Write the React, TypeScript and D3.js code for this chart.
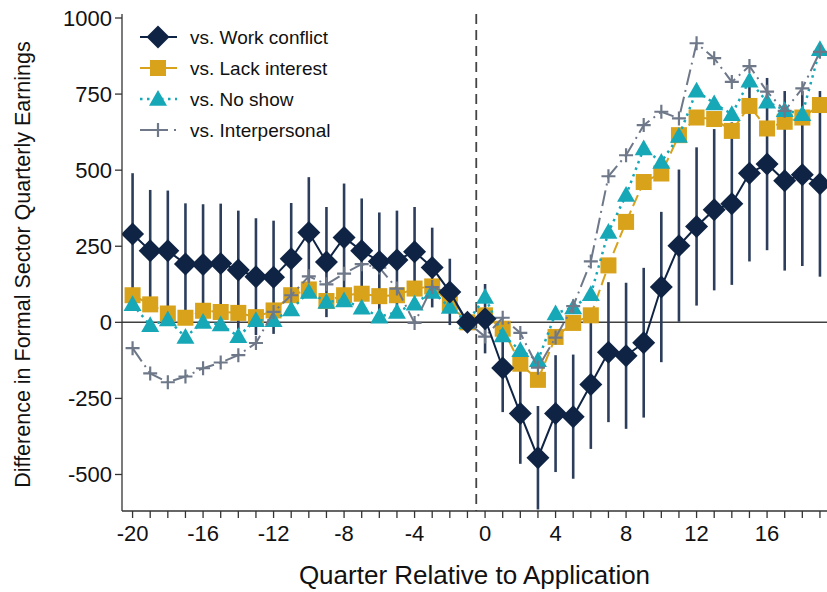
import React from 'react';
import * as d3 from 'd3';

// quarter relative to application (x categories)
const quarters = [-20, -19, -18, -17, -16, -15, -14, -13, -12, -11, -10, -9, -8, -7, -6, -5, -4, -3, -2, -1,
  0, 1, 2, 3, 4, 5, 6, 7, 8, 9, 10, 11, 12, 13, 14, 15, 16, 17, 18, 19];

const workConflict = [290, 235, 235, 192, 190, 193, 172, 150, 148, 209, 295, 198, 279, 235, 200, 205, 232, 180, 100, 0,
  12, -150, -300, -445, -300, -310, -204, -98, -110, -67, 116, 252, 315, 370, 390, 490, 520, 465, 485, 455];
const workLow = [90, 35, 37, -7, -8, -4, -23, -42, -38, 26, 113, 17, 102, 63, 39, 43, 85, 49, -9, 0,
  -102, -295, -465, -615, -492, -514, -416, -328, -350, -313, -131, 2, 55, 105, 123, 200, 237, 170, 185, 150];
const workHigh = [490, 435, 433, 391, 388, 390, 367, 342, 334, 392, 477, 379, 456, 407, 361, 367, 379, 311, 209, 0,
  126, -5, -135, -275, -108, -106, 8, 132, 130, 179, 363, 502, 575, 635, 657, 790, 803, 760, 760, 760];
const lackInterest = [89, 59, 29, 15, 38, 34, 31, 17, 39, 89, 108, 70, 89, 94, 86, 89, 111, 118, 61, 0,
  23, -21, -136, -189, -48, -2, 23, 187, 330, 461, 489, 615, 673, 668, 629, 711, 637, 659, 673, 714];
const noShow = [59, -10, 9, -48, 1, -7, -46, 7, 7, 42, 100, 67, 72, 48, 18, 34, 61, 100, 50, 0,
  83, -43, -92, -125, 29, 49, 92, 297, 418, 571, 527, 612, 761, 719, 684, 794, 725, 697, 684, 897];
const interpersonal = [-85, -168, -197, -178, -151, -132, -108, -68, 34, 89, 151, 125, 160, 191, 180, 111, -2, 116, 94, 0,
  -47, 15, -35, -149, -50, 53, 200, 480, 549, 648, 692, 670, 917, 868, 790, 842, 758, 695, 769, 889];

const xTicks = [-20, -16, -12, -8, -4, 0, 4, 8, 12, 16];
const yTicks = [-500, -250, 0, 250, 500, 750, 1000];

const NAVY = '#0f2444';
const BAR = '#2c3e5c';
const GOLD = '#d8a21b';
const TEAL = '#17a8b8';
const GRAY = '#6e7889';
const FONT = '"Liberation Sans", Arial, sans-serif';

const series = [
  { name: 'vs. Work conflict', values: workConflict, color: NAVY, dash: null, legendDash: null, width: 2, marker: 'diamond' },
  { name: 'vs. Lack interest', values: lackInterest, color: GOLD, dash: '12,5', legendDash: null, width: 2, marker: 'square' },
  { name: 'vs. No show', values: noShow, color: TEAL, dash: '2.5,4.5', legendDash: '2.5,4.5', width: 2.5, marker: 'triangle' },
  { name: 'vs. Interpersonal', values: interpersonal, color: GRAY, dash: '16,5,2,5', legendDash: '28,6,2,10', width: 2, marker: 'plus' },
];

function Marker({ type, x, y, color }) {
  if (type === 'diamond') {
    const r = 11.5;
    return <path d={`M${x},${y - r}L${x + r},${y}L${x},${y + r}L${x - r},${y}Z`} fill={color} />;
  }
  if (type === 'square') {
    const s = 8;
    return <rect x={x - s} y={y - s} width={2 * s} height={2 * s} fill={color} />;
  }
  if (type === 'triangle') {
    const r = 9;
    return <path d={`M${x},${y - r}L${x + r},${y + r * 0.75}L${x - r},${y + r * 0.75}Z`} fill={color} />;
  }
  const r = 7;
  return (
    <path d={`M${x - r},${y}H${x + r}M${x},${y - r}V${y + r}`} stroke={color} strokeWidth={2.2} fill="none" />
  );
}

export default function App() {
  const width = 827;
  const height = 592;
  const left = 122;
  const right = 827;
  const bottom = 511;
  const top = 14;

  const x = d3.scaleLinear().domain([-20.6, 19.4]).range([left, right]);
  const y = d3.scaleLinear().domain([-620, 1000]).range([bottom, 18]);

  const line = (vals) =>
    d3.line<number>()
      .x((d, i) => x(quarters[i]))
      .y((d) => y(d))(vals);

  const drawOrder = [series[1], series[2], series[3], series[0]];

  return (
    <svg width={width} height={height} style={{ position: 'absolute', left: 0, top: 0, background: '#fff' }}
      fontFamily={FONT}>
      <defs>
        <clipPath id="plot">
          <rect x={left} y={top} width={right - left} height={bottom - top} />
        </clipPath>
      </defs>

      {/* reference lines */}
      <line x1={left} x2={right} y1={y(0)} y2={y(0)} stroke="#404040" strokeWidth={1.5} />
      <line x1={x(-0.5)} x2={x(-0.5)} y1={top} y2={bottom} stroke="#444" strokeWidth={1.8} strokeDasharray="10,6" />

      <g clipPath="url(#plot)">
        {/* confidence intervals for work conflict */}
        {quarters.map((q, i) =>
          workLow[i] !== workHigh[i] ? (
            <line key={'ci' + q} x1={x(q)} x2={x(q)} y1={y(workLow[i])} y2={y(workHigh[i])}
              stroke={BAR} strokeWidth={2.6} />
          ) : null
        )}
        {drawOrder.map((s) => (
          <g key={s.name}>
            <path d={line(s.values)} fill="none" stroke={s.color} strokeWidth={s.width}
              strokeDasharray={s.dash || undefined} />
            {s.values.map((v, i) => (
              <Marker key={i} type={s.marker} x={x(quarters[i])} y={y(v)} color={s.color} />
            ))}
          </g>
        ))}
      </g>

      {/* y axis */}
      <line x1={left} x2={left} y1={top} y2={bottom} stroke="#333" strokeWidth={1.3} />
      {yTicks.map((t) => (
        <g key={t}>
          <line x1={left - 7} x2={left} y1={y(t)} y2={y(t)} stroke="#333" strokeWidth={1.3} />
          <text x={left - 10} y={y(t)} dy="0.35em" textAnchor="end" fontSize={22} fill="#111">{t}</text>
        </g>
      ))}
      <text transform={`translate(30,${(top + bottom) / 2 + 2}) rotate(-90)`} textAnchor="middle" fontSize={21.5}
        fill="#111">Difference in Formal Sector Quarterly Earnings</text>

      {/* x axis */}
      <line x1={left} x2={right} y1={bottom} y2={bottom} stroke="#333" strokeWidth={1.3} />
      {quarters.map((q) => (
        <line key={'t' + q} x1={x(q)} x2={x(q)} y1={bottom} y2={bottom + 7} stroke="#333" strokeWidth={1.3} />
      ))}
      {xTicks.map((t) => (
        <text key={'xl' + t} x={x(t)} y={bottom + 30} textAnchor="middle" fontSize={22} fill="#111">{t}</text>
      ))}
      <text x={(left + right) / 2} y={584} textAnchor="middle" fontSize={26} fill="#111">
        Quarter Relative to Application
      </text>

      {/* legend */}
      {series.map((s, i) => {
        const ly = 37 + i * 31;
        return (
          <g key={'lg' + s.name}>
            <line x1={140} x2={177} y1={ly} y2={ly} stroke={s.color} strokeWidth={s.width}
              strokeDasharray={s.legendDash || undefined} />
            <Marker type={s.marker} x={158} y={ly} color={s.color} />
            <text x={190} y={ly} dy="0.35em" fontSize={19} fill="#111">{s.name}</text>
          </g>
        );
      })}
    </svg>
  );
}
